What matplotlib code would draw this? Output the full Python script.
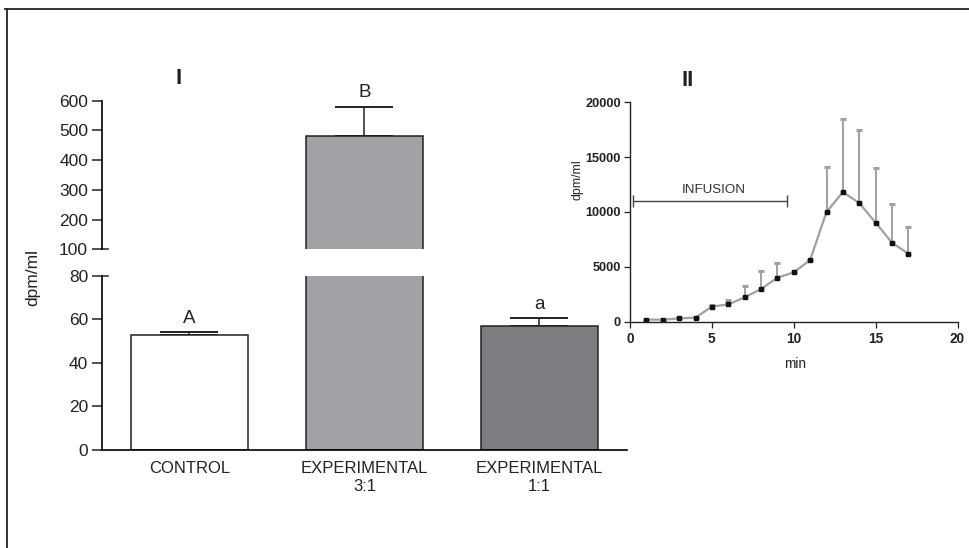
import matplotlib
matplotlib.use("Agg")
import matplotlib.pyplot as plt
from matplotlib.lines import Line2D
import numpy as np

plt.rcParams['font.family'] = ['Liberation Sans', 'DejaVu Sans']

# Panel I: bar data
groups = ['CONTROL', 'EXPERIMENTAL\n3:1', 'EXPERIMENTAL\n1:1']
means = [53, 480, 57]
sems = [1, 100, 3.5]
letters = ['A', 'B', 'a']
bar_colors = ['#ffffff', '#a1a2a6', '#7c7d81']

# Panel II: time course
minutes = [1, 2, 3, 4, 5, 6, 7, 8, 9, 10, 11, 12, 13, 14, 15, 16, 17]
dpm = [200, 180, 300, 370, 1380, 1570, 2220, 2980, 4010, 4500, 5620,
       10000, 11820, 10820, 9030, 7200, 6200]
dpm_err = [0, 0, 0, 0, 120, 400, 1050, 1670, 1340, 0, 0,
           4080, 6690, 6630, 4950, 3530, 2460]
infusion_start, infusion_end, infusion_level = 0.2, 9.6, 11000

W, H = 970, 548
fig = plt.figure(figsize=(W / 100, H / 100), dpi=100)


def frac(left, top, right, bottom):
    return [left / W, 1 - bottom / H, (right - left) / W, (bottom - top) / H]


ax_hi = fig.add_axes(frac(102, 100.7, 627, 249.3))
ax_lo = fig.add_axes(frac(102, 275.7, 627, 450))
ax2 = fig.add_axes(frac(630, 102.3, 957.5, 321.7))

x = np.arange(len(groups))
edge = '#222222'
for ax in (ax_hi, ax_lo):
    ax.bar(x, means, width=0.67, color=bar_colors, edgecolor=edge,
           linewidth=1.1, zorder=2)
    ax.errorbar(x, means, yerr=[np.zeros(len(sems)), sems], fmt='none',
                ecolor=edge, elinewidth=1.1, capsize=21, capthick=1.4, zorder=1)
    ax.set_xlim(-0.5, 2.5)
    ax.spines['top'].set_visible(False)
    ax.spines['right'].set_visible(False)
    ax.spines['left'].set_linewidth(1.2)
    ax.spines['bottom'].set_linewidth(1.2)
    ax.tick_params(axis='y', length=7, width=1.1, pad=3, labelsize=12.5,
                   colors='#222222')

ax_hi.set_ylim(100, 600)
ax_hi.set_yticks([100, 200, 300, 400, 500, 600])
ax_hi.spines['bottom'].set_visible(False)
ax_hi.set_xticks([])

ax_lo.set_ylim(0, 80)
ax_lo.set_yticks([0, 20, 40, 60, 80])
ax_lo.set_xticks(x)
ax_lo.set_xticklabels(groups, fontsize=12, color='#222222')
ax_lo.tick_params(axis='x', length=0, pad=8)

# ticks crossing the spine at the axis break
ax_hi.plot([0, 0.012], [100, 100], transform=ax_hi.get_yaxis_transform(),
           color=edge, lw=1.1, clip_on=False)
ax_lo.plot([0, 0.012], [80, 80], transform=ax_lo.get_yaxis_transform(),
           color=edge, lw=1.1, clip_on=False)

for ax, xi, m, s, t in [(ax_lo, 0, means[0], sems[0], letters[0]),
                        (ax_hi, 1, means[1], sems[1], letters[1]),
                        (ax_lo, 2, means[2], sems[2], letters[2])]:
    ax.annotate(t, (xi, m + s), xytext=(0, 4), textcoords='offset points',
                ha='center', va='bottom', fontsize=13.5, color='#222222')

fig.text(33 / W, 1 - 278 / H, 'dpm/ml', rotation=90, ha='center',
         va='center', fontsize=12.5, color='#222222')
fig.text(179 / W, 1 - 78 / H, 'I', ha='center', va='center',
         fontsize=16, fontweight='bold', color='#222222')
fig.text(688 / W, 1 - 80 / H, 'II', ha='center', va='center',
         fontsize=16, fontweight='bold', color='#222222')

# Panel II
gray = '#a0a0a0'
ax2.errorbar(minutes, dpm, yerr=[np.zeros(len(dpm_err)), dpm_err], fmt='none',
             ecolor=gray, elinewidth=1.4, capsize=2, capthick=2.2, zorder=1)
ax2.plot(minutes, dpm, color=gray, lw=1.6, marker='s', markersize=3.4,
         markerfacecolor='#111111', markeredgecolor='#111111', zorder=2)
ax2.errorbar([(infusion_start + infusion_end) / 2], [infusion_level],
             xerr=[(infusion_end - infusion_start) / 2], fmt='none',
             ecolor='#444444', elinewidth=1.0, capsize=4.5, capthick=1.0)
ax2.text((infusion_start + infusion_end) / 2 + 0.2, infusion_level + 450,
         'INFUSION', ha='center', va='bottom', fontsize=9.6, color='#333333')

ax2.set_xlim(0, 20)
ax2.set_ylim(0, 20000)
ax2.set_xticks([0, 5, 10, 15, 20])
ax2.set_yticks([0, 5000, 10000, 15000, 20000])
ax2.spines['top'].set_visible(False)
ax2.spines['right'].set_visible(False)
for side in ('left', 'bottom'):
    ax2.spines[side].set_linewidth(1.0)
    ax2.spines[side].set_color('#222222')
ax2.tick_params(axis='y', length=4.5, width=0.9, pad=2, colors='#222222')
ax2.tick_params(axis='x', length=4.5, width=0.9, pad=3, colors='#222222')
for lab in ax2.get_yticklabels():
    lab.set_fontfamily(['Liberation Sans Narrow', 'Liberation Sans'])
    lab.set_fontweight('bold')
    lab.set_fontsize(9.2)
for lab in ax2.get_xticklabels():
    lab.set_fontfamily(['Liberation Sans Narrow', 'Liberation Sans'])
    lab.set_fontweight('bold')
    lab.set_fontsize(9.8)
ax2.set_ylabel('dpm/ml', fontsize=8.8, color='#222222')
ax2.yaxis.set_label_coords(-0.1435, 0.646)
ax2.set_xlabel('min', fontsize=9.8, color='#222222')
ax2.xaxis.set_label_coords(0.504, -0.161)

# outer frame, open on the right and bottom
fig.add_artist(Line2D([5 / W, 1], [1 - 9 / H, 1 - 9 / H],
                      transform=fig.transFigure, color='#222222', lw=1.3))
fig.add_artist(Line2D([7 / W, 7 / W], [1 - 9 / H, 0],
                      transform=fig.transFigure, color='#222222', lw=1.3))

fig.savefig('out.png', dpi=100)
